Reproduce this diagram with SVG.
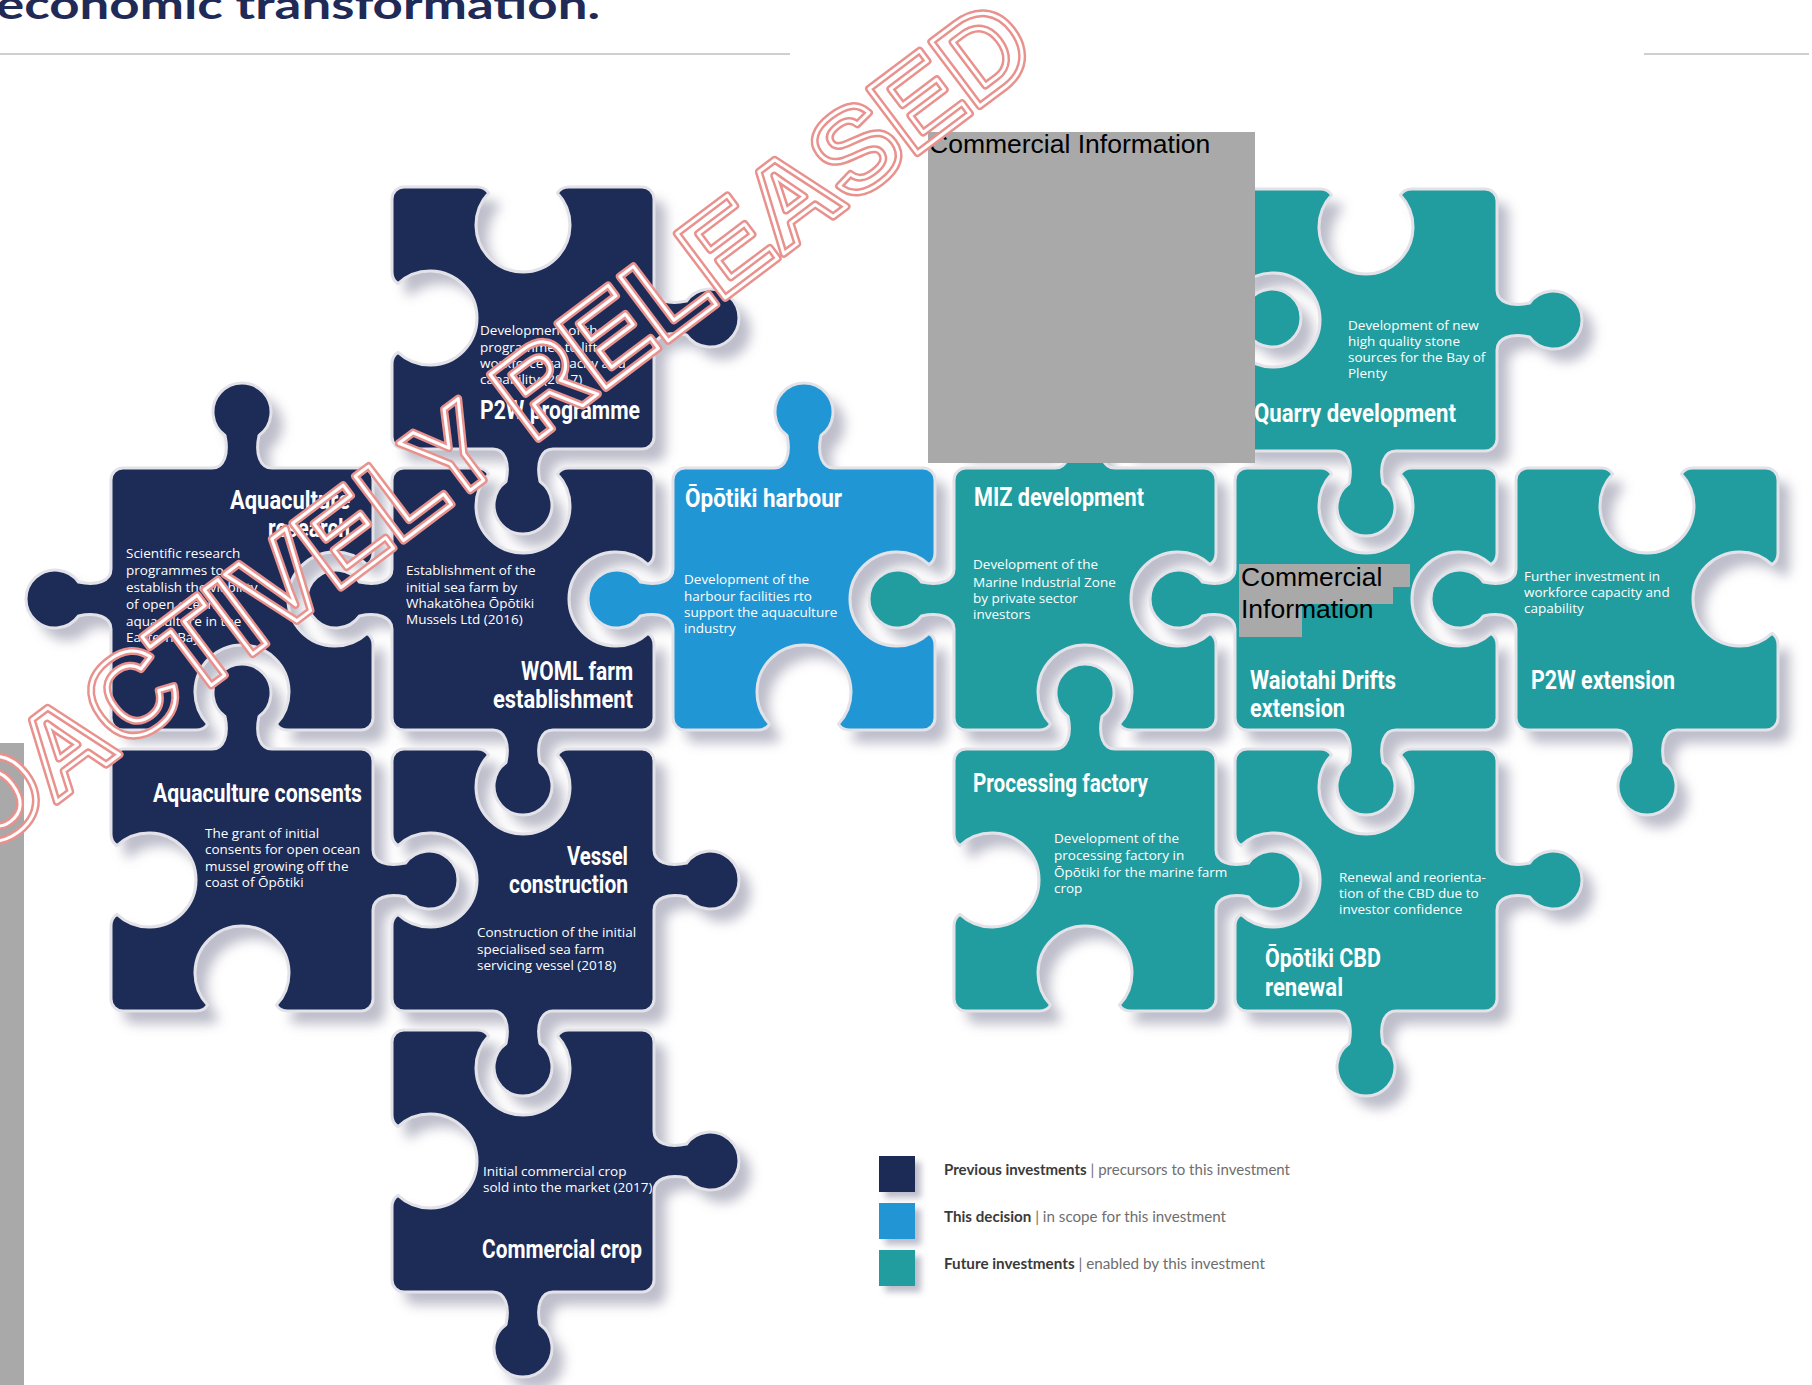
<svg xmlns="http://www.w3.org/2000/svg" xmlns:xlink="http://www.w3.org/1999/xlink" width="1812" height="1385" viewBox="0 0 1812 1385">
<style>
.navy{fill:#1d2b57}
.blue{fill:#2196d4}
.teal{fill:#219d9f}
.pc{stroke:#e2e2e8;stroke-width:3;stroke-linejoin:round}
.d{font-family:'Open Sans','Liberation Sans',sans-serif;font-size:13.5px;fill:#ffffff}
.t{font-family:'Liberation Sans Narrow',Roboto,'Liberation Sans',sans-serif;font-weight:700;font-size:25px;fill:#ffffff}
.red{fill:#a9a9a9}
.ci{font-family:'Liberation Sans',Arial,sans-serif;font-size:26.5px;fill:#000000}
.lg{font-family:Lato,'Liberation Sans',sans-serif;font-size:15.5px}
.wm{font-family:'Liberation Sans',Arial,sans-serif;font-weight:700;font-size:117px;fill:none;stroke-linejoin:round}
</style>
<defs>
<filter id="sh" x="-5%" y="-5%" width="115%" height="115%">
<feGaussianBlur in="SourceAlpha" stdDeviation="6"/>
<feOffset dx="12" dy="13" result="b"/>
<feFlood flood-color="#7d7d98" flood-opacity="0.5"/>
<feComposite in2="b" operator="in"/>
</filter>
<filter id="sh2" x="-30%" y="-30%" width="180%" height="180%">
<feGaussianBlur in="SourceAlpha" stdDeviation="3"/>
<feOffset dx="6" dy="6" result="b"/>
<feFlood flood-color="#7d7d98" flood-opacity="0.5"/>
<feComposite in2="b" operator="in" result="s"/>
<feMerge><feMergeNode in="s"/><feMergeNode in="SourceGraphic"/></feMerge>
</filter>
<path id="p1" d="M404,187 l73,0 q8,0 11.6,6 a47,47 0 1 0 68.8,0 q3.6,-6 11.6,-6 l73,0 a12,12 0 0 1 12,12 l0,89 c0,12 14,17 32.5,13 a29,29 0 1 1 0,34 c-18.5,-4 -32.5,1 -32.5,13 l0,89 a12,12 0 0 1 -12,12 l-89,0 c-12,0 -17,14 -13,32.5 a29,29 0 1 1 -34,0 c4,-18.5 -1,-32.5 -13,-32.5 l-89,0 a12,12 0 0 1 -12,-12 l0,-73 q0,-8 6,-11.6 a47,47 0 1 0 0,-68.8 q-6,-3.6 -6,-11.6 l0,-73 a12,12 0 0 1 12,-12 z"/>
<path id="p2" d="M123,468 l89,0 c12,0 17,-14 13,-32.5 a29,29 0 1 1 34,0 c-4,18.5 1,32.5 13,32.5 l89,0 a12,12 0 0 1 12,12 l0,73 q0,8 -6,11.6 a47,47 0 1 0 0,68.8 q6,3.6 6,11.6 l0,73 a12,12 0 0 1 -12,12 l-73,0 q-8,0 -11.6,-6 a47,47 0 1 0 -68.8,0 q-3.6,6 -11.6,6 l-73,0 a12,12 0 0 1 -12,-12 l0,-89 c0,-12 -14,-17 -32.5,-13 a29,29 0 1 1 0,-34 c18.5,4 32.5,-1 32.5,-13 l0,-89 a12,12 0 0 1 12,-12 z"/>
<path id="p3" d="M404,468 l73,0 q8,0 11.6,6 a47,47 0 1 0 68.8,0 q3.6,-6 11.6,-6 l73,0 a12,12 0 0 1 12,12 l0,73 q0,8 -6,11.6 a47,47 0 1 0 0,68.8 q6,3.6 6,11.6 l0,73 a12,12 0 0 1 -12,12 l-89,0 c-12,0 -17,14 -13,32.5 a29,29 0 1 1 -34,0 c4,-18.5 -1,-32.5 -13,-32.5 l-89,0 a12,12 0 0 1 -12,-12 l0,-89 c0,-12 -14,-17 -32.5,-13 a29,29 0 1 1 0,-34 c18.5,4 32.5,-1 32.5,-13 l0,-89 a12,12 0 0 1 12,-12 z"/>
<path id="p4" d="M685,468 l89,0 c12,0 17,-14 13,-32.5 a29,29 0 1 1 34,0 c-4,18.5 1,32.5 13,32.5 l89,0 a12,12 0 0 1 12,12 l0,73 q0,8 -6,11.6 a47,47 0 1 0 0,68.8 q6,3.6 6,11.6 l0,73 a12,12 0 0 1 -12,12 l-73,0 q-8,0 -11.6,-6 a47,47 0 1 0 -68.8,0 q-3.6,6 -11.6,6 l-73,0 a12,12 0 0 1 -12,-12 l0,-89 c0,-12 -14,-17 -32.5,-13 a29,29 0 1 1 0,-34 c18.5,4 32.5,-1 32.5,-13 l0,-89 a12,12 0 0 1 12,-12 z"/>
<path id="p5" d="M966,468 l89,0 c12,0 17,-14 13,-32.5 a29,29 0 1 1 34,0 c-4,18.5 1,32.5 13,32.5 l89,0 a12,12 0 0 1 12,12 l0,73 q0,8 -6,11.6 a47,47 0 1 0 0,68.8 q6,3.6 6,11.6 l0,73 a12,12 0 0 1 -12,12 l-73,0 q-8,0 -11.6,-6 a47,47 0 1 0 -68.8,0 q-3.6,6 -11.6,6 l-73,0 a12,12 0 0 1 -12,-12 l0,-89 c0,-12 -14,-17 -32.5,-13 a29,29 0 1 1 0,-34 c18.5,4 32.5,-1 32.5,-13 l0,-89 a12,12 0 0 1 12,-12 z"/>
<path id="p6" d="M966,187 l73,0 q8,0 11.6,6 a47,47 0 1 0 68.8,0 q3.6,-6 11.6,-6 l73,0 a12,12 0 0 1 12,12 l0,89 c0,12 14,17 32.5,13 a29,29 0 1 1 0,34 c-18.5,-4 -32.5,1 -32.5,13 l0,89 a12,12 0 0 1 -12,12 l-73,0 q-8,0 -11.6,-6 a47,47 0 1 0 -68.8,0 q-3.6,6 -11.6,6 l-73,0 a12,12 0 0 1 -12,-12 l0,-73 q0,-8 6,-11.6 a47,47 0 1 0 0,-68.8 q-6,-3.6 -6,-11.6 l0,-73 a12,12 0 0 1 12,-12 z"/>
<path id="p7" d="M1247,189 l73,0 q8,0 11.6,6 a47,47 0 1 0 68.8,0 q3.6,-6 11.6,-6 l73,0 a12,12 0 0 1 12,12 l0,89 c0,12 14,17 32.5,13 a29,29 0 1 1 0,34 c-18.5,-4 -32.5,1 -32.5,13 l0,89 a12,12 0 0 1 -12,12 l-89,0 c-12,0 -17,14 -13,32.5 a29,29 0 1 1 -34,0 c4,-18.5 -1,-32.5 -13,-32.5 l-89,0 a12,12 0 0 1 -12,-12 l0,-73 q0,-8 6,-11.6 a47,47 0 1 0 0,-68.8 q-6,-3.6 -6,-11.6 l0,-73 a12,12 0 0 1 12,-12 z"/>
<path id="p8" d="M1247,468 l73,0 q8,0 11.6,6 a47,47 0 1 0 68.8,0 q3.6,-6 11.6,-6 l73,0 a12,12 0 0 1 12,12 l0,73 q0,8 -6,11.6 a47,47 0 1 0 0,68.8 q6,3.6 6,11.6 l0,73 a12,12 0 0 1 -12,12 l-89,0 c-12,0 -17,14 -13,32.5 a29,29 0 1 1 -34,0 c4,-18.5 -1,-32.5 -13,-32.5 l-89,0 a12,12 0 0 1 -12,-12 l0,-89 c0,-12 -14,-17 -32.5,-13 a29,29 0 1 1 0,-34 c18.5,4 32.5,-1 32.5,-13 l0,-89 a12,12 0 0 1 12,-12 z"/>
<path id="p9" d="M1528,468 l73,0 q8,0 11.6,6 a47,47 0 1 0 68.8,0 q3.6,-6 11.6,-6 l73,0 a12,12 0 0 1 12,12 l0,73 q0,8 -6,11.6 a47,47 0 1 0 0,68.8 q6,3.6 6,11.6 l0,73 a12,12 0 0 1 -12,12 l-89,0 c-12,0 -17,14 -13,32.5 a29,29 0 1 1 -34,0 c4,-18.5 -1,-32.5 -13,-32.5 l-89,0 a12,12 0 0 1 -12,-12 l0,-89 c0,-12 -14,-17 -32.5,-13 a29,29 0 1 1 0,-34 c18.5,4 32.5,-1 32.5,-13 l0,-89 a12,12 0 0 1 12,-12 z"/>
<path id="p10" d="M123,749 l89,0 c12,0 17,-14 13,-32.5 a29,29 0 1 1 34,0 c-4,18.5 1,32.5 13,32.5 l89,0 a12,12 0 0 1 12,12 l0,89 c0,12 14,17 32.5,13 a29,29 0 1 1 0,34 c-18.5,-4 -32.5,1 -32.5,13 l0,89 a12,12 0 0 1 -12,12 l-73,0 q-8,0 -11.6,-6 a47,47 0 1 0 -68.8,0 q-3.6,6 -11.6,6 l-73,0 a12,12 0 0 1 -12,-12 l0,-73 q0,-8 6,-11.6 a47,47 0 1 0 0,-68.8 q-6,-3.6 -6,-11.6 l0,-73 a12,12 0 0 1 12,-12 z"/>
<path id="p11" d="M404,749 l73,0 q8,0 11.6,6 a47,47 0 1 0 68.8,0 q3.6,-6 11.6,-6 l73,0 a12,12 0 0 1 12,12 l0,89 c0,12 14,17 32.5,13 a29,29 0 1 1 0,34 c-18.5,-4 -32.5,1 -32.5,13 l0,89 a12,12 0 0 1 -12,12 l-89,0 c-12,0 -17,14 -13,32.5 a29,29 0 1 1 -34,0 c4,-18.5 -1,-32.5 -13,-32.5 l-89,0 a12,12 0 0 1 -12,-12 l0,-73 q0,-8 6,-11.6 a47,47 0 1 0 0,-68.8 q-6,-3.6 -6,-11.6 l0,-73 a12,12 0 0 1 12,-12 z"/>
<path id="p12" d="M966,749 l89,0 c12,0 17,-14 13,-32.5 a29,29 0 1 1 34,0 c-4,18.5 1,32.5 13,32.5 l89,0 a12,12 0 0 1 12,12 l0,89 c0,12 14,17 32.5,13 a29,29 0 1 1 0,34 c-18.5,-4 -32.5,1 -32.5,13 l0,89 a12,12 0 0 1 -12,12 l-73,0 q-8,0 -11.6,-6 a47,47 0 1 0 -68.8,0 q-3.6,6 -11.6,6 l-73,0 a12,12 0 0 1 -12,-12 l0,-73 q0,-8 6,-11.6 a47,47 0 1 0 0,-68.8 q-6,-3.6 -6,-11.6 l0,-73 a12,12 0 0 1 12,-12 z"/>
<path id="p13" d="M1247,749 l73,0 q8,0 11.6,6 a47,47 0 1 0 68.8,0 q3.6,-6 11.6,-6 l73,0 a12,12 0 0 1 12,12 l0,89 c0,12 14,17 32.5,13 a29,29 0 1 1 0,34 c-18.5,-4 -32.5,1 -32.5,13 l0,89 a12,12 0 0 1 -12,12 l-89,0 c-12,0 -17,14 -13,32.5 a29,29 0 1 1 -34,0 c4,-18.5 -1,-32.5 -13,-32.5 l-89,0 a12,12 0 0 1 -12,-12 l0,-73 q0,-8 6,-11.6 a47,47 0 1 0 0,-68.8 q-6,-3.6 -6,-11.6 l0,-73 a12,12 0 0 1 12,-12 z"/>
<path id="p14" d="M404,1030 l73,0 q8,0 11.6,6 a47,47 0 1 0 68.8,0 q3.6,-6 11.6,-6 l73,0 a12,12 0 0 1 12,12 l0,89 c0,12 14,17 32.5,13 a29,29 0 1 1 0,34 c-18.5,-4 -32.5,1 -32.5,13 l0,89 a12,12 0 0 1 -12,12 l-89,0 c-12,0 -17,14 -13,32.5 a29,29 0 1 1 -34,0 c4,-18.5 -1,-32.5 -13,-32.5 l-89,0 a12,12 0 0 1 -12,-12 l0,-73 q0,-8 6,-11.6 a47,47 0 1 0 0,-68.8 q-6,-3.6 -6,-11.6 l0,-73 a12,12 0 0 1 12,-12 z"/>
</defs>
<rect x="0" y="0" width="1812" height="1385" fill="#ffffff"/>
<g id="header">
<text x="-4" y="19" font-family="Lato,'Liberation Sans',sans-serif" font-weight="700" font-size="40" fill="#1f2b56" textLength="604" lengthAdjust="spacingAndGlyphs">economic transformation.</text>
<line x1="0" y1="54" x2="790" y2="54" stroke="#cfcfcf" stroke-width="2"/>
<line x1="1644" y1="54" x2="1809" y2="54" stroke="#cfcfcf" stroke-width="2"/>
</g>
<g id="shadows" filter="url(#sh)">
<use xlink:href="#p1"/><use xlink:href="#p2"/><use xlink:href="#p3"/><use xlink:href="#p4"/><use xlink:href="#p5"/><use xlink:href="#p6"/><use xlink:href="#p7"/><use xlink:href="#p8"/><use xlink:href="#p9"/><use xlink:href="#p10"/><use xlink:href="#p11"/><use xlink:href="#p12"/><use xlink:href="#p13"/><use xlink:href="#p14"/>
</g>
<g id="connectors"></g>
<g id="piece-hidden"><use xlink:href="#p6" class="teal pc"/></g>
<g id="p2w-programme">
<use xlink:href="#p1" class="navy pc"/>
<text class="d"><tspan x="480" y="335">Development of the</tspan><tspan x="480" y="352">programmes to lift</tspan><tspan x="480" y="368">workforce capacity and</tspan><tspan x="480" y="384">capability (2017)</tspan></text>
<text class="t" x="480" y="419" textLength="160" lengthAdjust="spacingAndGlyphs">P2W programme</text>
</g>
<g id="aquaculture-research">
<use xlink:href="#p2" class="navy pc"/>
<text class="t" x="350" y="509" text-anchor="end" textLength="120" lengthAdjust="spacingAndGlyphs">Aquaculture</text>
<text class="t" x="350" y="537" text-anchor="end" textLength="82" lengthAdjust="spacingAndGlyphs">research</text>
<text class="d"><tspan x="126" y="558">Scientific research</tspan><tspan x="126" y="575">programmes to</tspan><tspan x="126" y="592">establish the viability</tspan><tspan x="126" y="609">of open ocean</tspan><tspan x="126" y="626">aquaculture in the</tspan><tspan x="126" y="642">Eastern Bay</tspan></text>
</g>
<g id="woml-farm">
<use xlink:href="#p3" class="navy pc"/>
<text class="d"><tspan x="406" y="575">Establishment of the</tspan><tspan x="406" y="592">initial sea farm by</tspan><tspan x="406" y="608">Whakatōhea Ōpōtiki</tspan><tspan x="406" y="624">Mussels Ltd (2016)</tspan></text>
<text class="t" x="633" y="680" text-anchor="end" textLength="112" lengthAdjust="spacingAndGlyphs">WOML farm</text>
<text class="t" x="633" y="708" text-anchor="end" textLength="140" lengthAdjust="spacingAndGlyphs">establishment</text>
</g>
<g id="opotiki-harbour">
<use xlink:href="#p4" class="blue pc"/>
<text class="t" x="685" y="507" textLength="157" lengthAdjust="spacingAndGlyphs">Ōpōtiki harbour</text>
<text class="d"><tspan x="684" y="584">Development of the</tspan><tspan x="684" y="601">harbour facilities rto</tspan><tspan x="684" y="617">support the aquaculture</tspan><tspan x="684" y="633">industry</tspan></text>
</g>
<g id="miz-development">
<use xlink:href="#p5" class="teal pc"/>
<text class="t" x="974" y="506" textLength="170" lengthAdjust="spacingAndGlyphs">MIZ development</text>
<text class="d"><tspan x="973" y="569">Development of the</tspan><tspan x="973" y="587">Marine Industrial Zone</tspan><tspan x="973" y="603">by private sector</tspan><tspan x="973" y="619">investors</tspan></text>
</g>
<g id="quarry-development">
<use xlink:href="#p7" class="teal pc"/>
<text class="d"><tspan x="1348" y="330">Development of new</tspan><tspan x="1348" y="346">high quality stone</tspan><tspan x="1348" y="362">sources for the Bay of</tspan><tspan x="1348" y="378">Plenty</tspan></text>
<text class="t" x="1254" y="422" textLength="202" lengthAdjust="spacingAndGlyphs">Quarry development</text>
</g>
<g id="waiotahi-drifts">
<use xlink:href="#p8" class="teal pc"/>
<text class="t" x="1250" y="689" textLength="146" lengthAdjust="spacingAndGlyphs">Waiotahi Drifts</text>
<text class="t" x="1250" y="717" textLength="95" lengthAdjust="spacingAndGlyphs">extension</text>
</g>
<g id="p2w-extension">
<use xlink:href="#p9" class="teal pc"/>
<text class="d"><tspan x="1524" y="581">Further investment in</tspan><tspan x="1524" y="597">workforce capacity and</tspan><tspan x="1524" y="613">capability</tspan></text>
<text class="t" x="1531" y="689" textLength="144" lengthAdjust="spacingAndGlyphs">P2W extension</text>
</g>
<g id="aquaculture-consents">
<use xlink:href="#p10" class="navy pc"/>
<text class="t" x="153" y="802" textLength="209" lengthAdjust="spacingAndGlyphs">Aquaculture consents</text>
<text class="d"><tspan x="205" y="838">The grant of initial</tspan><tspan x="205" y="854">consents for open ocean</tspan><tspan x="205" y="871">mussel growing off the</tspan><tspan x="205" y="887">coast of Ōpōtiki</tspan></text>
</g>
<g id="vessel-construction">
<use xlink:href="#p11" class="navy pc"/>
<text class="t" x="628" y="865" text-anchor="end" textLength="61" lengthAdjust="spacingAndGlyphs">Vessel</text>
<text class="t" x="628" y="893" text-anchor="end" textLength="119" lengthAdjust="spacingAndGlyphs">construction</text>
<text class="d"><tspan x="477" y="937">Construction of the initial</tspan><tspan x="477" y="954">specialised sea farm</tspan><tspan x="477" y="970">servicing vessel (2018)</tspan></text>
</g>
<g id="processing-factory">
<use xlink:href="#p12" class="teal pc"/>
<text class="t" x="973" y="792" textLength="175" lengthAdjust="spacingAndGlyphs">Processing factory</text>
<text class="d"><tspan x="1054" y="843">Development of the</tspan><tspan x="1054" y="860">processing factory in</tspan><tspan x="1054" y="877">Ōpōtiki for the marine farm</tspan><tspan x="1054" y="893">crop</tspan></text>
</g>
<g id="opotiki-cbd">
<use xlink:href="#p13" class="teal pc"/>
<text class="d"><tspan x="1339" y="882">Renewal and reorienta-</tspan><tspan x="1339" y="898">tion of the CBD due to</tspan><tspan x="1339" y="914">investor confidence</tspan></text>
<text class="t" x="1265" y="967" textLength="116" lengthAdjust="spacingAndGlyphs">Ōpōtiki CBD</text>
<text class="t" x="1265" y="996" textLength="78" lengthAdjust="spacingAndGlyphs">renewal</text>
</g>
<g id="commercial-crop">
<use xlink:href="#p14" class="navy pc"/>
<text class="d"><tspan x="483" y="1176">Initial commercial crop</tspan><tspan x="483" y="1192">sold into the market (2017)</tspan></text>
<text class="t" x="482" y="1258" textLength="160" lengthAdjust="spacingAndGlyphs">Commercial crop</text>
</g>
<g id="redactions">
<rect class="red" x="928" y="132" width="327" height="331"/>
<text class="ci" x="929" y="153">Commercial Information</text>
<rect class="red" x="1239" y="564" width="171" height="23"/>
<rect class="red" x="1239" y="587" width="154" height="17"/>
<rect class="red" x="1239" y="604" width="63" height="33"/>
<text class="ci" x="1241" y="586">Commercial</text>
<text class="ci" x="1241" y="618">Information</text>
<rect class="red" x="0" y="743" width="24" height="642"/>
</g>
<g id="watermark" transform="translate(-148,956) rotate(-37)">
<text class="wm" stroke="#e8918d" stroke-width="8">PROACTIVELY RELEASED</text>
<text class="wm" stroke="#ffffff" stroke-width="3">PROACTIVELY RELEASED</text>
</g>
<g id="legend">
<g filter="url(#sh2)">
<rect x="879" y="1156" width="36" height="36" class="navy"/>
<rect x="879" y="1203" width="36" height="36" class="blue"/>
<rect x="879" y="1250" width="36" height="36" class="teal"/>
</g>
<text class="lg" x="944" y="1175" textLength="346" lengthAdjust="spacingAndGlyphs"><tspan font-weight="700" fill="#3a3a3a">Previous investments</tspan><tspan fill="#6e6e6e"> | precursors to this investment</tspan></text>
<text class="lg" x="944" y="1222" textLength="282" lengthAdjust="spacingAndGlyphs"><tspan font-weight="700" fill="#3a3a3a">This decision</tspan><tspan fill="#6e6e6e"> | in scope for this investment</tspan></text>
<text class="lg" x="944" y="1269" textLength="321" lengthAdjust="spacingAndGlyphs"><tspan font-weight="700" fill="#3a3a3a">Future investments</tspan><tspan fill="#6e6e6e"> | enabled by this investment</tspan></text>
</g>
</svg>
